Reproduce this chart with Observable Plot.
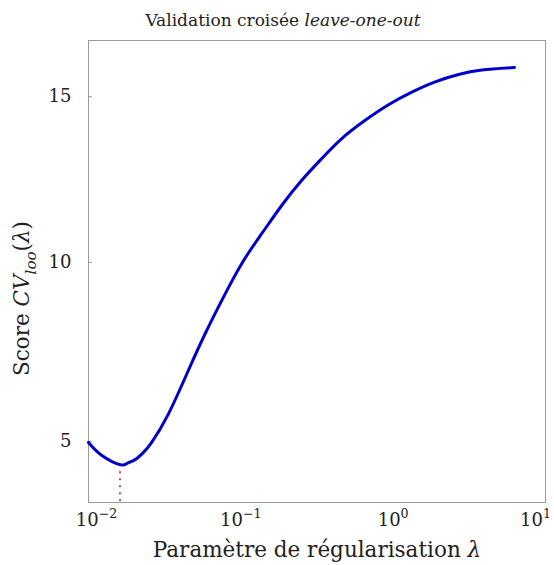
<!DOCTYPE html>
<html><head><meta charset="utf-8">
<script src="https://cdn.jsdelivr.net/npm/d3@7"></script>
<script src="https://cdn.jsdelivr.net/npm/@observablehq/plot@0.6"></script>
<style>body{margin:0;background:#fff} svg{display:block}</style>
</head><body><div id="chart"></div>
<script>
// Data
const lambdas = [0.01, 0.01224, 0.0161, 0.01786, 0.02023, 0.02296, 0.02606, 0.0335, 0.0453, 0.0583, 0.075, 0.1015, 0.1374, 0.1859, 0.2513, 0.340, 0.460, 0.655, 0.932, 1.326, 1.887, 2.685, 3.82, 6.26];
const scores  = [4.98, 4.64, 4.40, 4.43, 4.53, 4.72, 4.99, 5.74, 6.93, 7.95, 8.90, 9.97, 10.85, 11.69, 12.44, 13.10, 13.71, 14.27, 14.75, 15.14, 15.46, 15.69, 15.83, 15.91];
const lambdaOpt = 0.0161;
const scoreOpt = 4.40;
const xDomain = [0.01, 10];
const yDomain = [3.44, 16.76];
const xTicks = [0.01, 0.1, 1, 10];
const xTickBase = ["10", "10", "10", "10"];
const xTickExp = ["−2", "−1", "0", "1"];
const yTicks = [5, 10, 15];
const yTickLabels = ["5", "10", "15"];
const titleSegs = [{t: "Validation croisée "}, {t: "leave-one-out", i: true}];
const xLabelSegs = [{t: "Paramètre de régularisation "}, {t: "λ", i: true}];
const yLabelSegs = [{t: "Score "}, {t: "CV", i: true}, {t: "loo", i: true, sub: true}, {t: "("}, {t: "λ", i: true}, {t: ")"}];

const data = lambdas.map((l, i) => ({lambda: l, score: scores[i]}));
const font = "'DejaVu Serif', serif";
const xFmt = v => { const k = xTicks.indexOf(v); return xTickBase[k] + "^" + xTickExp[k]; };
const yFmt = v => yTickLabels[yTicks.indexOf(v)];
const joined = segs => segs.map(s => s.t).join("");

const plot = Plot.plot({
  width: 554, height: 565,
  marginTop: 40, marginLeft: 88, marginRight: 9, marginBottom: 63,
  style: {fontFamily: font, color: "#222", background: "#fff"},
  x: {type: "log", domain: xDomain},
  y: {type: "pow", exponent: 0.85, domain: yDomain},
  marks: [
    Plot.frame({stroke: "#999"}),
    Plot.axisY(yTicks, {tickSize: -4, tickFormat: () => "", stroke: "#999", label: null}),
    Plot.axisY(yTicks, {tickSize: 0, tickPadding: 17, fontSize: 18, tickFormat: yFmt, label: null}),
    Plot.axisX(xTicks.slice(1, 3), {tickSize: 0, tickPadding: 11, fontSize: 18, tickFormat: xFmt, label: null}),
    Plot.axisX(xTicks.slice(0, 1), {tickSize: 0, tickPadding: 11, fontSize: 18, tickFormat: xFmt, label: null, dx: 8}),
    Plot.axisX(xTicks.slice(3), {tickSize: 0, tickPadding: 11, fontSize: 18, tickFormat: xFmt, label: null, dx: -10}),
    Plot.ruleX([lambdaOpt], {x: d => d, y1: scoreOpt, y2: yDomain[0], stroke: "#c2466a", strokeWidth: 2, strokeDasharray: "2,5"}),
    Plot.line(data, {x: "lambda", y: "score", stroke: "#0000cc", strokeWidth: 3, curve: "natural"}),
    Plot.text([joined(titleSegs)], {frameAnchor: "top", textAnchor: "middle", lineAnchor: "middle", dy: -20, dx: -34, fontSize: 17, fontFamily: font}),
    Plot.text([joined(xLabelSegs)], {frameAnchor: "bottom", textAnchor: "middle", lineAnchor: "middle", dy: 48, fontSize: 21.5, fontFamily: font}),
    Plot.text([joined(yLabelSegs)], {frameAnchor: "left", textAnchor: "middle", lineAnchor: "middle", dx: -66, dy: 27, rotate: -90, fontSize: 21.5, fontFamily: font})
  ]
});
document.getElementById("chart").appendChild(plot);

const NS = "http://www.w3.org/2000/svg";
function rich(el, segs, size) {
  if (!el) return;
  el.textContent = "";
  let off = 0;
  for (const s of segs) {
    const ts = document.createElementNS(NS, "tspan");
    ts.textContent = s.t;
    if (s.i) ts.setAttribute("font-style", "italic");
    let target = 0;
    if (s.sub) { ts.setAttribute("font-size", (size * 0.7) + "px"); target = size * 0.3; }
    if (s.sup) { ts.setAttribute("font-size", (size * 0.7) + "px"); target = -size * 0.45; }
    if (target !== off) { ts.setAttribute("dy", (target - off) + "px"); off = target; }
    el.appendChild(ts);
  }
}
const allTexts = Array.from(plot.querySelectorAll("text"));
const findText = s => allTexts.find(t => t.textContent === s);
rich(findText(joined(titleSegs)), titleSegs, 17);
rich(findText(joined(xLabelSegs)), xLabelSegs, 21.5);
rich(findText(joined(yLabelSegs)), yLabelSegs, 21.5);
allTexts.filter(t => t.textContent.includes("^")).forEach(t => {
  const [b, e] = t.textContent.split("^");
  rich(t, [{t: b}, {t: e, sup: true}], 18);
});
</script>
</body></html>
